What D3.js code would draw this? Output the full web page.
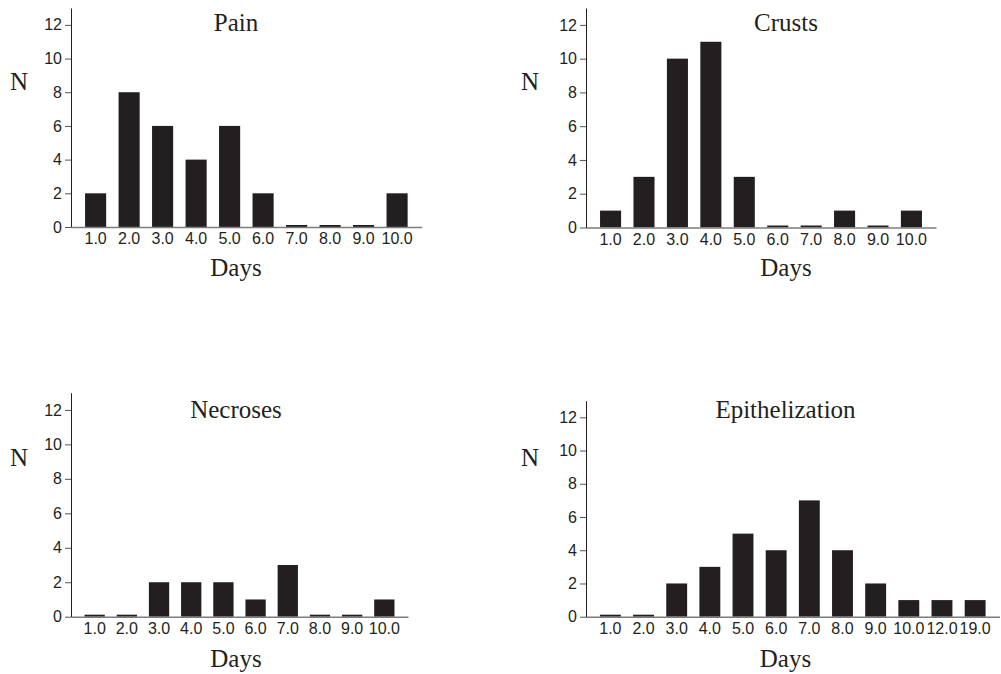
<!DOCTYPE html>
<html>
<head>
<meta charset="utf-8">
<script src="https://cdn.jsdelivr.net/npm/d3@7"></script>
<style>
  body { margin: 0; background: #fff; }
  svg { display: block; }
</style>
</head>
<body>
<div id="chart-area"></div>
<script>
// data
var days10 = ["1.0","2.0","3.0","4.0","5.0","6.0","7.0","8.0","9.0","10.0"];
var daysEpi = ["1.0","2.0","3.0","4.0","5.0","6.0","7.0","8.0","9.0","10.0","12.0","19.0"];
var painN = [2,8,6,4,6,2,0,0,0,2];
var crustsN = [1,3,10,11,3,0,0,1,0,1];
var necrosesN = [0,0,2,2,2,1,3,0,0,1];
var epiN = [0,0,2,3,5,4,7,4,2,1,1,1];
var yTicks = [0,2,4,6,8,10,12];
var yMax = 13;

// layout of each small chart (pixels)
var panels = [
    {title:"Pain", days:days10, n:painN, x0:71, x1:421.7, yb:227, yt:8, tx:236, ty:31, dy:276, nx:19, ny:90},
    {title:"Crusts", days:days10, n:crustsN, x0:586, x1:936, yb:227.5, yt:8, tx:786, ty:31, dy:276, nx:530, ny:90},
    {title:"Necroses", days:days10, n:necrosesN, x0:71, x1:408, yb:616.7, yt:392.7, tx:236, ty:418, dy:667, nx:19, ny:466},
    {title:"Epithelization", days:daysEpi, n:epiN, x0:586, x1:999.5, yb:616.7, yt:400.7, tx:785.5, ty:418, dy:667, nx:530, ny:466}
];

var width=1001, height=674;
var ink="#231f20";
var sans="'Liberation Sans', Arial, Helvetica, sans-serif";
var serif="'Liberation Serif', 'Times New Roman', serif";

var svg=d3.select("#chart-area").append("svg")
    .attr("width",width)
    .attr("height",height);

panels.forEach(p => {
    var g=svg.append("g");
    var data=p.days.map((d,i)=>({day:d, n:p.n[i]}));

    var x=d3.scaleBand()
        .domain(p.days)
        .range([p.x0,p.x1])
        .paddingInner(0.37)
        .paddingOuter(0.42);

    var y=d3.scaleLinear()
        .domain([0,yMax])
        .range([p.yb,p.yt]);

    // zero counts still show as a thin line on the baseline
    g.selectAll("rect")
        .data(data)
        .enter()
        .append("rect")
        .attr("x",d=>x(d.day))
        .attr("y",d=>Math.min(y(d.n),y(0)-2))
        .attr("width",x.bandwidth())
        .attr("height",d=>Math.max(y(0)-y(d.n),2))
        .attr("fill",ink);

    var bottomAxis=d3.axisBottom(x).tickSize(0).tickPadding(6);
    var xg=g.append("g")
        .attr("transform","translate(0,"+p.yb+")")
        .call(bottomAxis);
    xg.select(".domain").attr("stroke","#7d7d7d").attr("stroke-width",1.5);
    xg.selectAll("text")
        .attr("font-family",sans)
        .attr("font-size","16px")
        .attr("fill",ink);

    var leftAxis=d3.axisLeft(y).tickValues(yTicks).tickSize(6).tickSizeOuter(0).tickPadding(3);
    var yg=g.append("g")
        .attr("transform","translate("+p.x0+",0)")
        .call(leftAxis);
    yg.select(".domain").attr("stroke",ink);
    yg.selectAll(".tick line").attr("stroke","#555");
    yg.selectAll("text")
        .attr("font-family",sans)
        .attr("font-size","16px")
        .attr("fill",ink);

    g.append("text")
        .attr("x",p.tx).attr("y",p.ty)
        .attr("text-anchor","middle")
        .attr("font-family",serif).attr("font-size","25px")
        .attr("fill",ink)
        .text(p.title);

    g.append("text")
        .attr("x",p.tx).attr("y",p.dy)
        .attr("text-anchor","middle")
        .attr("font-family",serif).attr("font-size","25px")
        .attr("fill",ink)
        .text("Days");

    g.append("text")
        .attr("x",p.nx).attr("y",p.ny)
        .attr("text-anchor","middle")
        .attr("font-family",serif).attr("font-size","25px")
        .attr("fill",ink)
        .text("N");
});
</script>
</body>
</html>
